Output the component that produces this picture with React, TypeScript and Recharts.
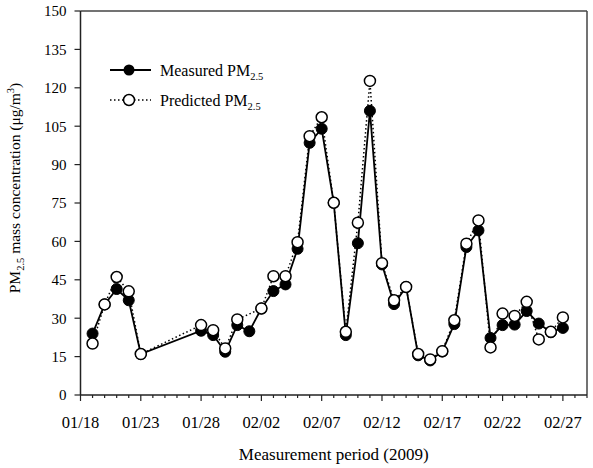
import { ComposedChart, Line, XAxis, YAxis, ReferenceLine } from 'recharts'

// day offset from 01/18/2009
const days = [1, 2, 3, 4, 5, 10, 11, 12, 13, 14, 15, 16, 17, 18, 19, 20, 21, 22, 23, 24, 25, 26, 27, 28, 29, 30, 31, 32, 33, 34, 35, 36, 37, 38, 39, 40]
const measured = [24.0, 35.4, 41.4, 37.0, 16.0, 25.1, 23.4, 16.9, 27.3, 24.9, 33.8, 40.6, 43.2, 57.1, 98.5, 104.0, 75.1, 23.4, 59.3, 111.0, 51.0, 35.5, 42.2, 15.5, 13.5, 17.0, 27.7, 57.8, 64.3, 22.3, 27.3, 27.5, 32.8, 27.9, 24.5, 26.2]
const predicted = [20.1, 35.4, 46.1, 40.5, 16.0, 27.3, 25.3, 18.2, 29.5, null, 33.8, 46.4, 46.4, 59.7, 101.1, 108.5, 75.1, 24.7, 67.3, 122.7, 51.5, 37.0, 42.2, 16.0, 13.9, 17.1, 29.2, 59.1, 68.2, 18.6, 31.8, 30.9, 36.4, 21.7, 24.7, 30.3]

const yTicks = [0, 15, 30, 45, 60, 75, 90, 105, 120, 135, 150]
const majorDays = [0, 5, 10, 15, 20, 25, 30, 35, 40]
const dayLabels = ['01/18', '01/23', '01/28', '02/02', '02/07', '02/12', '02/17', '02/22', '02/27']
const dayTicks = [0, 1, 2, 3, 4, 5, 6, 7, 8, 9, 10, 11, 12, 13, 14, 15, 16, 17, 18, 19, 20, 21, 22, 23, 24, 25, 26, 27, 28, 29, 30, 31, 32, 33, 34, 35, 36, 37, 38, 39, 40, 41, 42]

const data = days.map((d, i) => ({ day: d, measured: measured[i], predicted: predicted[i] }))

const FONT = 'Liberation Serif, serif'
const INK = '#000'
const AXIS = '#222'

function DayTick({ x, y, payload }: any) {
  const i = majorDays.indexOf(payload.value)
  const major = i >= 0
  return (
    <g>
      <line x1={x} x2={x} y1={y} y2={y + (major ? 6 : 3)} stroke={AXIS} strokeWidth={1.2} />
      {major && (
        <text x={x} y={y + 33} textAnchor="middle" style={{ fontFamily: FONT }} fontSize={16.5} fill={INK}>
          {dayLabels[i]}
        </text>
      )}
    </g>
  )
}

function YTitle() {
  return (
    <text
      transform="translate(20, 188) rotate(-90)"
      textAnchor="middle"
      style={{ fontFamily: FONT }}
      fontSize={15.5}
      fill={INK}
    >
      PM<tspan fontSize={10.5} dy={4}>2.5</tspan>
      <tspan dy={-4}> mass concentration (μg/m</tspan>
      <tspan fontSize={10.5} dy={-6}>3</tspan>
      <tspan dy={6}>)</tspan>
    </text>
  )
}

function LegendBox() {
  return (
    <g transform="translate(110, 60)">
      <line x1={0} x2={41} y1={10} y2={10} stroke={INK} strokeWidth={2} />
      <circle cx={19} cy={10} r={5.5} fill={INK} />
      <text x={50} y={16} style={{ fontFamily: FONT }} fontSize={16} fill={INK}>
        Measured PM<tspan fontSize={10.5} dy={4}>2.5</tspan>
      </text>
      <line x1={0} x2={41} y1={40} y2={40} stroke={INK} strokeWidth={1.5} strokeDasharray="1.5 2.5" />
      <circle cx={19} cy={40} r={5.5} fill="#fff" stroke={INK} strokeWidth={1.5} />
      <text x={50} y={46} style={{ fontFamily: FONT }} fontSize={16} fill={INK}>
        Predicted PM<tspan fontSize={10.5} dy={4}>2.5</tspan>
      </text>
    </g>
  )
}

export default function App() {
  return (
    <div style={{ position: 'absolute', left: 0, top: 0, width: 593, height: 468, background: '#fff', fontFamily: FONT }}>
      <ComposedChart width={593} height={468} data={data} margin={{ top: 11, right: 6, bottom: 0, left: 0 }}>
        <XAxis
          dataKey="day"
          type="number"
          domain={[0, 42]}
          ticks={dayTicks}
          interval={0}
          tickSize={0}
          tickMargin={0}
          tick={<DayTick />}
          height={73}
          axisLine={{ stroke: AXIS, strokeWidth: 1.5 }}
          label={{
            value: 'Measurement period (2009)',
            position: 'insideBottom',
            offset: 8,
            style: { fontFamily: FONT },
            fontSize: 17,
            fill: INK,
          }}
        />
        <YAxis
          type="number"
          domain={[0, 150]}
          ticks={yTicks}
          interval={0}
          width={80.5}
          tickSize={6}
          tickMargin={8}
          tickLine={{ stroke: AXIS, strokeWidth: 1.2 }}
          axisLine={{ stroke: AXIS, strokeWidth: 1.5 }}
          tick={{ style: { fontFamily: FONT }, fontSize: 15, fill: INK }}
          label={<YTitle />}
        />
        <ReferenceLine y={150} stroke="#444" strokeWidth={1.5} ifOverflow="visible" />
        <ReferenceLine x={42} stroke="#444" strokeWidth={1.5} ifOverflow="visible" />
        <LegendBox />
        <Line
          type="linear"
          dataKey="measured"
          stroke={INK}
          strokeWidth={1.8}
          dot={{ r: 5.5, fill: INK, stroke: INK, strokeWidth: 1 }}
          isAnimationActive={false}
        />
        <Line
          type="linear"
          dataKey="predicted"
          stroke={INK}
          strokeWidth={1.5}
          strokeDasharray="1.5 2.5"
          connectNulls
          dot={{ r: 5.5, fill: '#fff', stroke: INK, strokeWidth: 1.5, strokeDasharray: '' }}
          isAnimationActive={false}
        />
      </ComposedChart>
    </div>
  )
}
